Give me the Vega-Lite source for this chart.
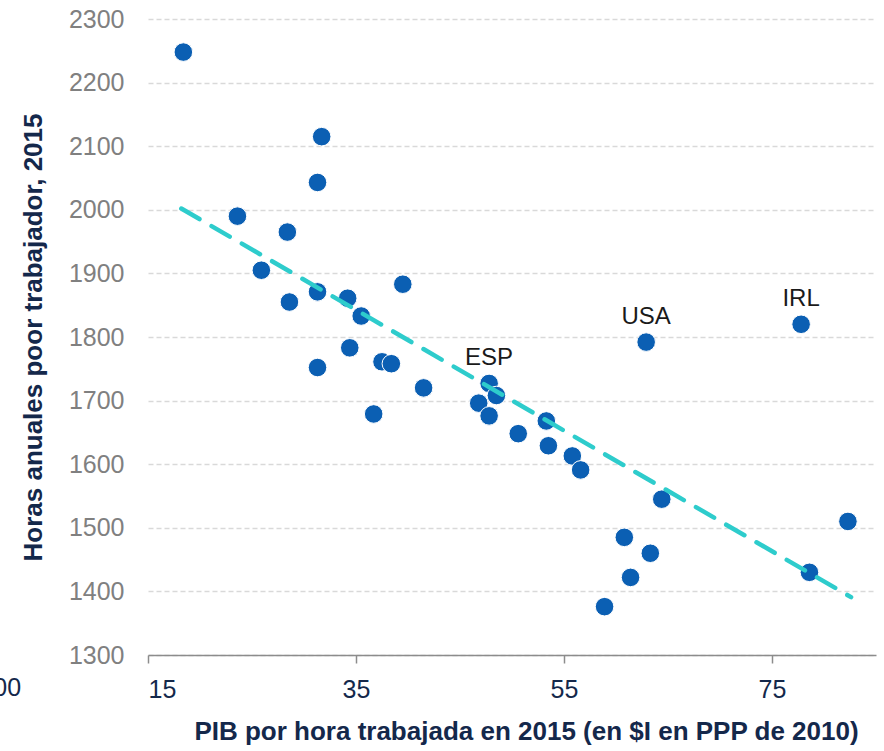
{
  "$schema": "https://vega.github.io/schema/vega-lite/v6.json",
  "width": 728,
  "height": 636,
  "autosize": {"type": "none"},
  "padding": {"left": 148, "top": 19, "right": 8, "bottom": 96},
  "background": "white",
  "config": {
    "view": {"stroke": null},
    "font": "Liberation Sans"
  },
  "datasets": {
    "pts": [
      {"pais": "", "pib": 18.4, "horas": 2248},
      {"pais": "", "pib": 31.7, "horas": 2115},
      {"pais": "", "pib": 31.3, "horas": 2043},
      {"pais": "", "pib": 23.6, "horas": 1990},
      {"pais": "", "pib": 28.4, "horas": 1965},
      {"pais": "", "pib": 25.9, "horas": 1905},
      {"pais": "", "pib": 28.6, "horas": 1855},
      {"pais": "", "pib": 31.3, "horas": 1871},
      {"pais": "", "pib": 34.2, "horas": 1861},
      {"pais": "", "pib": 35.5, "horas": 1833},
      {"pais": "", "pib": 39.5, "horas": 1883},
      {"pais": "", "pib": 31.3, "horas": 1752},
      {"pais": "", "pib": 34.4, "horas": 1783},
      {"pais": "", "pib": 37.5, "horas": 1761},
      {"pais": "", "pib": 38.4, "horas": 1758},
      {"pais": "", "pib": 36.7, "horas": 1679},
      {"pais": "", "pib": 41.5, "horas": 1720},
      {"pais": "ESP", "pib": 47.8, "horas": 1727},
      {"pais": "", "pib": 48.5, "horas": 1708},
      {"pais": "", "pib": 46.8, "horas": 1696},
      {"pais": "", "pib": 47.8, "horas": 1676},
      {"pais": "", "pib": 50.6, "horas": 1648},
      {"pais": "", "pib": 53.3, "horas": 1668},
      {"pais": "", "pib": 53.5, "horas": 1629},
      {"pais": "", "pib": 55.8, "horas": 1613},
      {"pais": "", "pib": 56.6, "horas": 1591},
      {"pais": "", "pib": 64.4, "horas": 1545},
      {"pais": "", "pib": 60.8, "horas": 1485},
      {"pais": "", "pib": 63.3, "horas": 1460},
      {"pais": "", "pib": 61.4, "horas": 1422},
      {"pais": "", "pib": 58.9, "horas": 1376},
      {"pais": "USA", "pib": 62.9, "horas": 1792},
      {"pais": "IRL", "pib": 77.8, "horas": 1820},
      {"pais": "", "pib": 82.3, "horas": 1510},
      {"pais": "", "pib": 78.6, "horas": 1430}
    ],
    "trend": [
      {"pib": 18.2, "horas": 2002},
      {"pib": 82.6, "horas": 1391}
    ],
    "stray": [
      {"pib": 2.8, "horas": 1300, "txt": "100"}
    ]
  },
  "layer": [
    {
      "data": {"name": "pts"},
      "mark": {"type": "circle", "size": 345, "color": "#0b5fb3", "opacity": 1, "stroke": "white", "strokeWidth": 1},
      "encoding": {
        "x": {
          "field": "pib", "type": "quantitative",
          "scale": {"domain": [15, 85], "nice": false, "zero": false},
          "axis": {
            "values": [15, 35, 55, 75],
            "grid": false,
            "domainColor": "#8c8c8c",
            "domainWidth": 1.5,
            "tickColor": "#8c8c8c",
            "tickSize": 8,
            "tickWidth": 1.5,
            "labelColor": "#14284b",
            "labelFontSize": 25,
            "labelPadding": 14,
            "title": "PIB por hora trabajada en 2015 (en $I en PPP de 2010)",
            "titleColor": "#14284b",
            "titleFontSize": 26,
            "titleFontWeight": "bold",
            "titlePadding": 16,
            "titleX": 378
          }
        },
        "y": {
          "field": "horas", "type": "quantitative",
          "scale": {"domain": [1300, 2300], "nice": false, "zero": false},
          "axis": {
            "values": [1300, 1400, 1500, 1600, 1700, 1800, 1900, 2000, 2100, 2200, 2300],
            "format": "d",
            "grid": true,
            "gridColor": "#d9d9d9",
            "gridDash": [5, 3],
            "gridWidth": 1.5,
            "domain": false,
            "ticks": false,
            "labelColor": "#808080",
            "labelFontSize": 25,
            "labelPadding": 24,
            "title": "Horas anuales poor trabajador, 2015",
            "titleColor": "#14284b",
            "titleFontSize": 26,
            "titleFontWeight": "bold",
            "titlePadding": 22
          }
        }
      }
    },
    {
      "data": {"name": "trend"},
      "mark": {"type": "line", "color": "#2ecccc", "strokeWidth": 4.5, "strokeDash": [21, 14], "strokeCap": "round"},
      "encoding": {
        "x": {"field": "pib", "type": "quantitative"},
        "y": {"field": "horas", "type": "quantitative"}
      }
    },
    {
      "data": {"name": "pts"},
      "transform": [{"filter": "datum.pais != ''"}],
      "mark": {"type": "text", "fontSize": 24, "color": "#1a1a1a", "dy": -25, "align": "center", "baseline": "middle"},
      "encoding": {
        "x": {"field": "pib", "type": "quantitative"},
        "y": {"field": "horas", "type": "quantitative"},
        "text": {"field": "pais"}
      }
    },
    {
      "data": {"name": "stray"},
      "mark": {"type": "text", "fontSize": 25, "color": "#14284b", "dy": 33, "align": "right", "baseline": "middle", "clip": false},
      "encoding": {
        "x": {"field": "pib", "type": "quantitative"},
        "y": {"field": "horas", "type": "quantitative"},
        "text": {"field": "txt"}
      }
    }
  ]
}
